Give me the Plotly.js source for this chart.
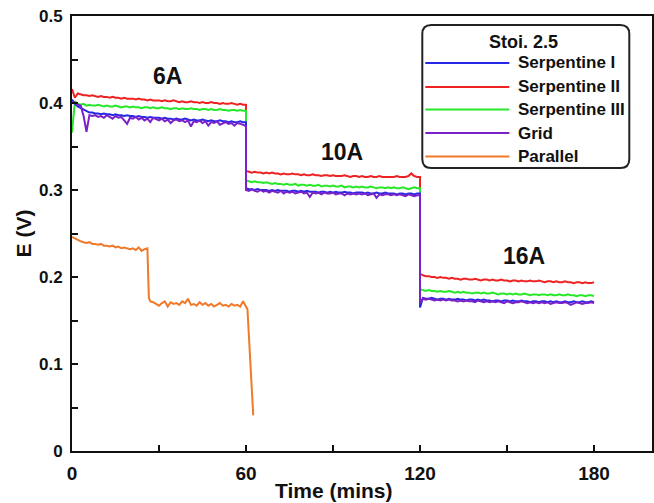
<!DOCTYPE html>
<html>
<head>
<meta charset="utf-8">
<script src="https://cdn.plot.ly/plotly-3.0.1.min.js"></script>
<style>html,body{margin:0;padding:0;background:#fff;}#chart{width:654px;height:503px;}</style>
</head>
<body>
<div id="chart"></div>
<script>
// ---- Time (mins) for each current step ----
const T_6A  = [0,1,2,3,4,5,6,7,8,9,10,11,12,13,14,15,16,17,18,19,20,21,22,23,24,25,26,27,28,29,30,31,32,33,34,35,36,37,38,39,40,41,42,43,44,45,46,47,48,49,50,51,52,53,54,55,56,57,58,59,60];
const T_10A = [60,61,62,63,64,65,66,67,68,69,70,71,72,73,74,75,76,77,78,79,80,81,82,83,84,85,86,87,88,89,90,91,92,93,94,95,96,97,98,99,100,101,102,103,104,105,106,107,108,109,110,111,112,113,114,115,116,117,118,119,120];
const T_16A = [120,121,122,123,124,125,126,127,128,129,130,131,132,133,134,135,136,137,138,139,140,141,142,143,144,145,146,147,148,149,150,151,152,153,154,155,156,157,158,159,160,161,162,163,164,165,166,167,168,169,170,171,172,173,174,175,176,177,178,179,180];

// ---- Serpentine I ----
const serp1_6A = [0.404,0.399,0.396,0.394,0.392,0.390,0.389,0.389,0.388,0.388,
  0.387,0.388,0.387,0.387,0.386,0.387,0.386,0.386,0.385,0.386,
  0.385,0.385,0.384,0.385,0.384,0.384,0.383,0.384,0.383,0.383,
  0.383,0.382,0.383,0.382,0.382,0.381,0.382,0.381,0.381,0.382,
  0.381,0.380,0.381,0.380,0.380,0.381,0.380,0.379,0.380,0.379,
  0.379,0.380,0.379,0.379,0.378,0.379,0.378,0.378,0.379,0.378,0.378];
const serp1_10A = [0.302,0.301,0.301,0.300,0.301,0.300,0.300,0.300,0.299,0.300,
  0.299,0.300,0.299,0.299,0.299,0.298,0.299,0.299,0.298,0.299,
  0.298,0.299,0.298,0.298,0.298,0.297,0.298,0.298,0.297,0.298,
  0.297,0.298,0.297,0.297,0.298,0.297,0.297,0.296,0.297,0.297,
  0.297,0.296,0.297,0.296,0.296,0.297,0.296,0.296,0.297,0.296,
  0.296,0.296,0.295,0.296,0.296,0.295,0.296,0.296,0.295,0.296,0.296];
const serp1_16A = [0.165,0.176,0.175,0.175,0.176,0.175,0.174,0.175,0.175,0.174,
  0.175,0.174,0.174,0.175,0.174,0.174,0.173,0.174,0.174,0.173,
  0.174,0.173,0.174,0.173,0.173,0.172,0.173,0.173,0.172,0.173,
  0.173,0.172,0.173,0.172,0.172,0.173,0.172,0.172,0.171,0.172,
  0.172,0.171,0.172,0.172,0.171,0.172,0.171,0.172,0.171,0.171,
  0.172,0.171,0.171,0.172,0.171,0.171,0.172,0.171,0.171,0.172,0.171];

// ---- Serpentine II ----
const serp2_6A = [0.416,0.406,0.411,0.410,0.409,0.409,0.408,0.409,0.408,0.407,
  0.408,0.407,0.407,0.406,0.407,0.406,0.406,0.405,0.406,0.405,
  0.405,0.405,0.404,0.405,0.404,0.404,0.403,0.404,0.403,0.403,
  0.403,0.402,0.403,0.402,0.402,0.403,0.402,0.401,0.402,0.401,
  0.401,0.402,0.401,0.401,0.400,0.401,0.400,0.400,0.401,0.400,
  0.400,0.399,0.400,0.399,0.399,0.400,0.399,0.398,0.399,0.398,0.398];
const serp2_10A = [0.322,0.321,0.320,0.321,0.320,0.320,0.319,0.320,0.319,0.320,
  0.319,0.319,0.318,0.319,0.318,0.318,0.319,0.318,0.318,0.317,
  0.318,0.317,0.317,0.318,0.317,0.317,0.316,0.317,0.317,0.316,
  0.317,0.316,0.316,0.316,0.317,0.316,0.315,0.316,0.316,0.315,
  0.316,0.315,0.315,0.316,0.315,0.315,0.316,0.315,0.315,0.315,
  0.315,0.315,0.316,0.315,0.315,0.315,0.316,0.319,0.316,0.315,0.315];
const serp2_16A = [0.204,0.202,0.201,0.201,0.200,0.200,0.199,0.200,0.199,0.199,
  0.198,0.199,0.198,0.198,0.197,0.198,0.198,0.197,0.197,0.198,
  0.197,0.196,0.197,0.197,0.196,0.197,0.196,0.196,0.197,0.196,
  0.196,0.195,0.196,0.196,0.195,0.196,0.195,0.195,0.196,0.195,
  0.195,0.196,0.195,0.194,0.195,0.195,0.194,0.195,0.194,0.194,
  0.195,0.194,0.194,0.193,0.194,0.194,0.193,0.194,0.193,0.193,0.194];

// ---- Serpentine III ----
const serp3_6A = [0.366,0.402,0.399,0.398,0.399,0.397,0.398,0.397,0.397,0.398,
  0.397,0.396,0.397,0.396,0.396,0.397,0.396,0.395,0.396,0.396,
  0.395,0.396,0.395,0.395,0.394,0.395,0.395,0.394,0.395,0.394,
  0.394,0.395,0.394,0.394,0.393,0.394,0.394,0.393,0.394,0.393,
  0.393,0.394,0.393,0.393,0.392,0.393,0.393,0.392,0.393,0.392,
  0.392,0.393,0.392,0.392,0.391,0.392,0.392,0.391,0.392,0.391,0.391];
const serp3_10A = [0.311,0.310,0.309,0.310,0.309,0.309,0.308,0.309,0.308,0.307,
  0.308,0.307,0.307,0.306,0.307,0.306,0.306,0.307,0.305,0.306,
  0.306,0.305,0.306,0.305,0.305,0.306,0.304,0.305,0.305,0.304,
  0.305,0.304,0.304,0.305,0.303,0.304,0.304,0.303,0.304,0.303,
  0.304,0.303,0.303,0.304,0.303,0.302,0.303,0.303,0.302,0.303,
  0.302,0.303,0.302,0.302,0.303,0.302,0.301,0.302,0.303,0.302,0.302];
const serp3_16A = [0.186,0.185,0.184,0.185,0.184,0.184,0.183,0.184,0.183,0.183,
  0.184,0.183,0.182,0.183,0.182,0.183,0.182,0.182,0.181,0.182,
  0.182,0.181,0.182,0.181,0.181,0.182,0.181,0.180,0.181,0.181,
  0.180,0.181,0.180,0.181,0.180,0.180,0.181,0.180,0.179,0.180,
  0.180,0.179,0.180,0.180,0.179,0.180,0.179,0.179,0.180,0.179,
  0.179,0.180,0.179,0.179,0.178,0.179,0.179,0.178,0.179,0.179,0.178];

// ---- Grid ----
const grid_6A = [0.401,0.400,0.398,0.397,0.385,0.367,0.386,0.385,0.386,0.384,
  0.385,0.383,0.386,0.384,0.382,0.385,0.383,0.384,0.380,0.376,
  0.383,0.382,0.384,0.381,0.383,0.380,0.382,0.378,0.383,0.381,
  0.380,0.382,0.379,0.381,0.377,0.380,0.381,0.379,0.380,0.378,
  0.380,0.373,0.379,0.378,0.380,0.377,0.379,0.374,0.378,0.377,
  0.379,0.375,0.377,0.378,0.376,0.377,0.374,0.377,0.376,0.375,0.373];
const grid_10A = [0.300,0.299,0.301,0.299,0.298,0.300,0.298,0.299,0.297,0.299,
  0.298,0.297,0.299,0.296,0.298,0.297,0.298,0.296,0.297,0.298,
  0.296,0.297,0.292,0.297,0.296,0.297,0.295,0.297,0.296,0.296,
  0.297,0.295,0.296,0.296,0.294,0.296,0.295,0.296,0.295,0.296,
  0.295,0.296,0.294,0.295,0.296,0.291,0.295,0.294,0.295,0.295,
  0.294,0.295,0.294,0.295,0.294,0.293,0.295,0.294,0.293,0.294,0.294];
const grid_16A = [0.170,0.175,0.174,0.175,0.174,0.173,0.174,0.173,0.174,0.173,
  0.174,0.173,0.173,0.172,0.173,0.172,0.173,0.172,0.172,0.171,
  0.173,0.172,0.171,0.172,0.171,0.172,0.171,0.172,0.171,0.170,
  0.172,0.171,0.170,0.171,0.171,0.172,0.171,0.170,0.171,0.170,
  0.171,0.170,0.171,0.170,0.171,0.169,0.170,0.171,0.170,0.170,
  0.171,0.170,0.168,0.170,0.171,0.170,0.169,0.170,0.170,0.171,0.170];

// ---- Parallel ----
const parallel_t = [0,1,2,3,4,5,6,7,8,9,10,11,12,13,14,15,16,17,18,19,20,21,22,23,24,25,26,26.5,
  27,28,29,30,31,32,33,34,35,36,37,38,39,40,41,42,43,44,45,46,47,48,49,50,51,52,53,54,55,56,57,58,59,60,60.5,62.5];
const parallel_E = [0.246,0.244,0.243,0.241,0.240,0.239,0.240,0.238,0.238,0.237,
  0.238,0.236,0.236,0.235,0.236,0.234,0.235,0.233,0.234,0.233,
  0.232,0.233,0.231,0.234,0.230,0.232,0.233,0.176,
  0.172,0.171,0.169,0.167,0.170,0.172,0.166,0.171,0.169,0.170,
  0.168,0.172,0.170,0.175,0.168,0.169,0.167,0.171,0.168,0.170,
  0.167,0.169,0.166,0.168,0.170,0.167,0.168,0.166,0.169,0.167,
  0.168,0.166,0.172,0.166,0.163,0.041];

const seriesNames = ['Serpentine I','Serpentine II','Serpentine III','Grid','Parallel'];
const seriesColors = ['#2727e8','#ee2222','#27e827','#7a22c8','#f07a2a'];
const stepLabels = ['6A','10A','16A'];
const stepLabelX = [33, 93, 156];
const stepLabelY = [0.431, 0.344, 0.224];

const T = T_6A.concat(T_10A, T_16A);
const ys = [
  serp1_6A.concat(serp1_10A, serp1_16A),
  serp2_6A.concat(serp2_10A, serp2_16A),
  serp3_6A.concat(serp3_10A, serp3_16A),
  grid_6A.concat(grid_10A, grid_16A)
];

const FONT = 'Liberation Sans, Arial, Helvetica, sans-serif';
const traces = [];
traces.push({x: parallel_t, y: parallel_E, type:'scatter', mode:'lines', name: seriesNames[4],
  line:{color: seriesColors[4], width:2}});
[1,2,0,3].forEach(i => {
  traces.push({x: T, y: ys[i], type:'scatter', mode:'lines', name: seriesNames[i],
    line:{color: seriesColors[i], width:2}});
});

// plot area in pixels
const L = 71.7, R = 651.7, TOP = 16, BOT = 451;
const px = x => (x - L) / (R - L);
const py = y => (BOT - y) / (BOT - TOP);

const shapes = [];
const annotations = [];
const bx0 = 422, bx1 = 629, by0 = 25, by1 = 168, r = 9;
const path = `M ${px(bx0+r)} ${py(by0)} L ${px(bx1-r)} ${py(by0)} Q ${px(bx1)} ${py(by0)} ${px(bx1)} ${py(by0+r)} ` +
  `L ${px(bx1)} ${py(by1-r)} Q ${px(bx1)} ${py(by1)} ${px(bx1-r)} ${py(by1)} ` +
  `L ${px(bx0+r)} ${py(by1)} Q ${px(bx0)} ${py(by1)} ${px(bx0)} ${py(by1-r)} ` +
  `L ${px(bx0)} ${py(by0+r)} Q ${px(bx0)} ${py(by0)} ${px(bx0+r)} ${py(by0)} Z`;
shapes.push({type:'path', xref:'paper', yref:'paper', path: path, line:{color:'#222', width:2}, fillcolor:'rgba(255,255,255,1)', layer:'above'});
annotations.push({xref:'paper', yref:'paper', x: px(523), y: py(42), text:'Stoi. 2.5', showarrow:false,
  xanchor:'center', yanchor:'middle', font:{family:FONT, size:18, color:'#111', weight:'bold'}});
const legY = [63, 87, 109.5, 133, 156.5];
legY.forEach((yy, i) => {
  shapes.push({type:'line', xref:'paper', yref:'paper', x0: px(425), x1: px(509), y0: py(yy), y1: py(yy),
    line:{color: seriesColors[i], width:2}, layer:'above'});
  annotations.push({xref:'paper', yref:'paper', x: px(516), y: py(yy), text: seriesNames[i], showarrow:false,
    xanchor:'left', yanchor:'middle', font:{family:FONT, size:17, color:'#111', weight:'bold'}});
});
stepLabels.forEach((s, i) => {
  annotations.push({x: stepLabelX[i], y: stepLabelY[i], text: s, showarrow:false, xanchor:'center', yanchor:'middle',
    font:{family:FONT, size:23, color:'#111', weight:'bold'}});
});
annotations.push({xref:'paper', yref:'paper', x: px(333), y: py(490), text:'Time (mins)', showarrow:false,
  xanchor:'center', yanchor:'middle', font:{family:FONT, size:21, color:'#111', weight:'bold'}});

const axisCommon = {
  showgrid:false, zeroline:false, showline:true, linecolor:'#111', linewidth:2, mirror:true,
  ticks:'inside', ticklen:6, tickwidth:2, tickcolor:'#111'
};

const layout = {
  width:654, height:503,
  margin:{l:L, r:654-R, t:TOP, b:503-BOT},
  paper_bgcolor:'#fff', plot_bgcolor:'#fff',
  showlegend:false,
  xaxis: Object.assign({}, axisCommon, {range:[0,200], tick0:0, dtick:60, ticklabelstandoff:4,
    tickfont:{family:FONT, size:19, color:'#111', weight:'bold'},
    minor:{dtick:30, ticks:'inside', ticklen:6, tickwidth:2, tickcolor:'#111', showgrid:false}}),
  yaxis: Object.assign({}, axisCommon, {range:[0,0.5], tick0:0, dtick:0.1, ticklabelstandoff:4,
    tickfont:{family:FONT, size:17, color:'#111', weight:'bold'},
    minor:{dtick:0.05, ticks:'inside', ticklen:6, tickwidth:2, tickcolor:'#111', showgrid:false},
    title:{text:'E (V)', standoff:2, font:{family:FONT, size:21, color:'#111', weight:'bold'}}}),
  shapes: shapes,
  annotations: annotations
};

Plotly.newPlot('chart', traces, layout, {displayModeBar:false, staticPlot:true});
</script>
</body>
</html>
